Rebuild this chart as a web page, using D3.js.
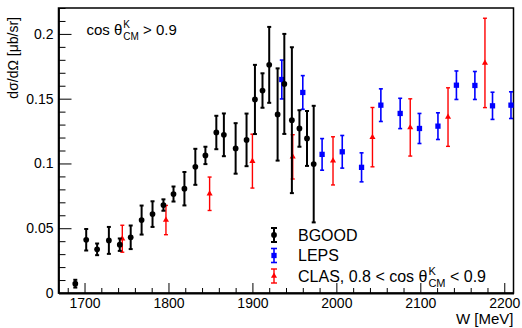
<!DOCTYPE html>
<html>
<head>
<meta charset="utf-8">
<script src="https://cdn.jsdelivr.net/npm/d3@7/dist/d3.min.js"></script>
<style>
html,body{margin:0;padding:0;background:#fff;}
svg{display:block;font-family:"Liberation Sans",Arial,Helvetica,sans-serif;}
</style>
</head>
<body>
<svg id="chart" width="522" height="328"></svg>
<script>
// ---- data ----
const bgoodW   = [1689,1702,1715,1729,1742,1755,1768,1781,1794,1806,1819,1832,1844,1857,1866,1880,1893,1903,1912,1920,1930,1938,1947,1956,1965,1973];
const bgoodY   = [0.0072,0.0411,0.0337,0.0406,0.0373,0.0430,0.0563,0.0609,0.0679,0.0764,0.0805,0.0974,0.1062,0.1239,0.1221,0.1116,0.1182,0.1494,0.1563,0.1761,0.1378,0.1614,0.1334,0.1270,0.1193,0.0995];
const bgoodErr = [0.0030,0.0083,0.0045,0.0104,0.0048,0.0091,0.0112,0.0099,0.0044,0.0058,0.0129,0.0139,0.0067,0.0129,0.0165,0.0195,0.0203,0.0267,0.0133,0.0293,0.0356,0.0386,0.0563,0.0141,0.0212,0.0450];

const lepsW   = [1935,1960,1983,2007,2030,2053,2076,2099,2121,2143,2165,2186,2208];
const lepsY   = [0.1648,0.1548,0.1070,0.1090,0.0970,0.1450,0.1386,0.1270,0.1288,0.1604,0.1602,0.1445,0.1450];
const lepsErr = [0.0150,0.0130,0.0122,0.0126,0.0112,0.0126,0.0117,0.0116,0.0103,0.0110,0.0108,0.0105,0.0103];

const clasW   = [1745,1797,1849,1900,1948,1996,2043,2088,2133,2177];
const clasY   = [0.0419,0.0563,0.0766,0.1018,0.1051,0.1020,0.1203,0.1278,0.1358,0.1776];
const clasErr = [0.0104,0.0113,0.0129,0.0208,0.0171,0.0186,0.0229,0.0221,0.0226,0.0345];

const xTicks = [1700,1800,1900,2000,2100,2200];
const yTicks = [0,0.05,0.1,0.15,0.2];
const xDomain = [1669,2211];
const yDomain = [0,0.22];

// ---- layout ----
const L = 58.5, R = 513.5, T = 8, B = 293;
const svg = d3.select("#chart");
const x = d3.scaleLinear().domain(xDomain).range([L, R]);
const y = d3.scaleLinear().domain(yDomain).range([B, T]);

// minor ticks
const xMinor = d3.range(1680, 2211, 20).filter(v => v % 100 !== 0);
const yMinor = d3.range(0, 0.2201, 0.01).filter(v => Math.abs(v/0.05 - Math.round(v/0.05)) > 1e-6);

const gx = svg.append("g").attr("transform", `translate(0,${B})`);
gx.call(d3.axisBottom(x).tickValues(xTicks).tickFormat(d3.format("d")).tickSizeInner(-10).tickSizeOuter(0).tickPadding(5));
gx.append("g").call(d3.axisBottom(x).tickValues(xMinor).tickFormat("").tickSizeInner(-5).tickSizeOuter(0))
  .select(".domain").remove();

const gy = svg.append("g").attr("transform", `translate(${L},0)`);
gy.call(d3.axisLeft(y).tickValues(yTicks).tickFormat(d => d === 0 ? "0" : d3.format("")(d)).tickSizeInner(-13).tickSizeOuter(0).tickPadding(5));
gy.append("g").call(d3.axisLeft(y).tickValues(yMinor).tickFormat("").tickSizeInner(-7).tickSizeOuter(0))
  .select(".domain").remove();

svg.selectAll(".tick line").attr("stroke", "#000").attr("stroke-width", 1);
svg.selectAll(".tick text").attr("font-size", 14).attr("fill", "#000")
  .attr("font-family", "Liberation Sans, Arial, sans-serif");
gx.selectAll(".tick text").attr("dy", "0.72em").attr("y", 5);
gy.selectAll(".tick text").attr("x", -5);

// frame
svg.append("rect").attr("x", L).attr("y", T).attr("width", R - L).attr("height", B - T)
  .attr("fill", "none").attr("stroke", "#000").attr("stroke-width", 1.5);
svg.selectAll(".domain").attr("stroke", "#000").attr("stroke-width", 1.8);

// ---- series ----
function drawSeries(W, V, E, color, lw, shape, size) {
  const g = svg.append("g");
  W.forEach((w, i) => {
    const cx = x(w), cy = y(V[i]);
    const y1 = y(V[i] + E[i]), y2 = y(V[i] - E[i]);
    g.append("line").attr("x1", cx).attr("x2", cx).attr("y1", y1).attr("y2", y2)
      .attr("stroke", color).attr("stroke-width", lw);
    [y1, y2].forEach(yy => g.append("line").attr("x1", cx - 2).attr("x2", cx + 2)
      .attr("y1", yy).attr("y2", yy).attr("stroke", color).attr("stroke-width", lw));
    g.append("path").attr("d", d3.symbol().type(shape).size(size)())
      .attr("transform", `translate(${cx},${cy})`).attr("fill", color);
  });
}
drawSeries(lepsW, lepsY, lepsErr, "#0000ff", 1.6, d3.symbolSquare, 28);
drawSeries(clasW, clasY, clasErr, "#ff0000", 1.4, d3.symbolTriangle, 16);
drawSeries(bgoodW, bgoodY, bgoodErr, "#000000", 2, d3.symbolCircle, 26);

// ---- rich text helper (base + stacked super/subscript) ----
function rich(x0, yb, parts, size, small, supOff, subOff) {
  const g = svg.append("g");
  let cx = x0;
  parts.forEach(p => {
    if (p.t !== undefined) {
      const t = g.append("text").attr("x", cx).attr("y", yb).attr("font-size", size)
        .attr("fill", "#000").attr("xml:space", "preserve").style("white-space", "pre").text(p.t);
      cx += t.node().getComputedTextLength();
    } else {
      const a = g.append("text").attr("x", cx + 1).attr("y", yb + supOff).attr("font-size", small).attr("fill", "#000").text(p.sup);
      const b = g.append("text").attr("x", cx + 1).attr("y", yb + subOff).attr("font-size", small).attr("fill", "#000").text(p.sub);
      cx += 1 + Math.max(a.node().getComputedTextLength(), b.node().getComputedTextLength());
    }
  });
  return g;
}

rich(86.5, 35, [{t: "cos θ"}, {sup: "K", sub: "CM"}, {t: " > 0.9"}], 15, 10, -7, 5);

// ---- legend ----
const legend = [
  {label: [{t: "BGOOD"}], color: "#000000", shape: d3.symbolCircle, size: 26, lw: 2},
  {label: [{t: "LEPS"}], color: "#0000ff", shape: d3.symbolSquare, size: 28, lw: 1.6},
  {label: [{t: "CLAS, 0.8 < cos θ"}, {sup: "K", sub: "CM"}, {t: " < 0.9"}], color: "#ff0000", shape: d3.symbolTriangle, size: 16, lw: 1.4}
];
legend.forEach((d, i) => {
  const cy = 235 + i * 20.5, cx = 274;
  const g = svg.append("g");
  g.append("line").attr("x1", cx).attr("x2", cx).attr("y1", cy - 7).attr("y2", cy + 7).attr("stroke", d.color).attr("stroke-width", d.lw);
  [cy - 7, cy + 7].forEach(yy => g.append("line").attr("x1", cx - 3).attr("x2", cx + 3).attr("y1", yy).attr("y2", yy).attr("stroke", d.color).attr("stroke-width", d.lw));
  g.append("path").attr("d", d3.symbol().type(d.shape).size(d.size)()).attr("transform", `translate(${cx},${cy})`).attr("fill", d.color);
  rich(298, cy + 5.5, d.label, 16, 11, -7, 5.5);
});

// ---- axis titles ----
svg.append("text").attr("x", R).attr("y", 324).attr("text-anchor", "end").attr("font-size", 15).attr("fill", "#000").text("W [MeV]");
svg.append("text").attr("transform", "translate(18,17) rotate(-90)").attr("text-anchor", "end").attr("font-size", 14).attr("fill", "#000").text("dσ/dΩ [μb/sr]");
</script>
</body>
</html>
